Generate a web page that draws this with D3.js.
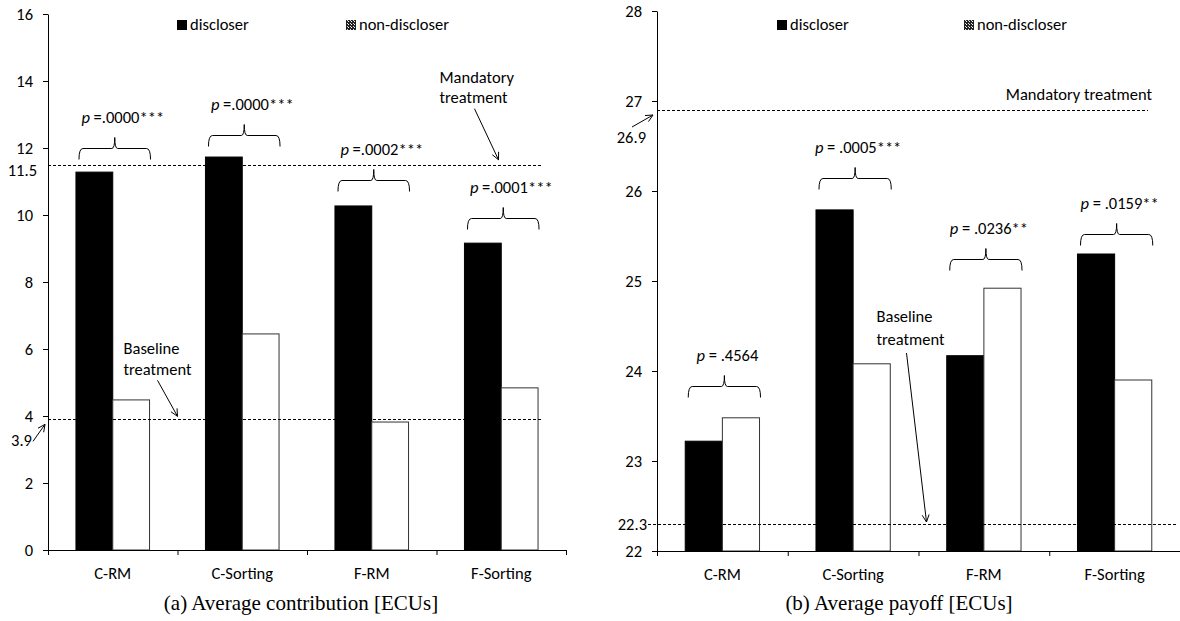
<!DOCTYPE html>
<meta charset="utf-8">
<style>
body { margin: 0; background: #fff; }
.lbl { font-family: Carlito, Lato, sans-serif; font-size: 16.5px; fill: #000; }
.cap { font-family: "Liberation Serif", "Times New Roman", serif; font-size: 21px; fill: #000; }
</style>
<body>
<script src="https://d3js.org/d3.v7.min.js"></script>
<script>

// data
const categories = ["C-RM", "C-Sorting", "F-RM", "F-Sorting"];
const series = ["discloser", "non-discloser"];

const contribDiscloser    = [11.28, 11.73, 10.27, 9.16];
const contribNonDiscloser = [4.48, 6.45, 3.82, 4.84];
const contribTicks = [0, 2, 4, 6, 8, 10, 12, 14, 16];
const contribPValues = ["=.0000***", "=.0000***", "=.0002***", "=.0001***"];
const contribBraceLevels = [12.0, 12.39, 11.04, 9.91];
const contribBaseline = 3.9;
const contribMandatory = 11.5;

const payoffDiscloser    = [23.22, 25.79, 24.17, 25.30];
const payoffNonDiscloser = [23.48, 24.08, 24.92, 23.90];
const payoffTicks = [22, 23, 24, 25, 26, 27, 28];
const payoffPValues = ["= .4564", "= .0005***", "= .0236**", "= .0159**"];
const payoffBraceLevels = [23.83, 26.14, 25.24, 25.52];
const payoffBaseline = 22.3;
const payoffMandatory = 26.9;

const svg = d3.select("body").append("svg")
    .attr("width", 1180)
    .attr("height", 621);

// legend hatch for non-discloser (as in the original figure)
const pat = svg.append("defs").append("pattern")
    .attr("id", "hatch")
    .attr("width", 3).attr("height", 3)
    .attr("patternUnits", "userSpaceOnUse");
pat.append("rect").attr("width", 3).attr("height", 3).attr("fill", "#222");
pat.append("rect").attr("width", 1).attr("height", 1).attr("fill", "#fff");
pat.append("rect").attr("x", 2).attr("y", 2).attr("width", 1).attr("height", 1).attr("fill", "#ddd");

function arrow(g, x1, y1, x2, y2) {
    g.append("line")
        .attr("x1", x1).attr("y1", y1).attr("x2", x2).attr("y2", y2)
        .attr("stroke", "#000").attr("stroke-width", 1);
    const a = Math.atan2(y2 - y1, x2 - x1), L = 8, s = 0.45;
    g.append("path")
        .attr("d", "M" + (x2 - L * Math.cos(a - s)) + "," + (y2 - L * Math.sin(a - s)) +
            "L" + x2 + "," + y2 +
            "L" + (x2 - L * Math.cos(a + s)) + "," + (y2 - L * Math.sin(a + s)))
        .attr("fill", "none").attr("stroke", "#000").attr("stroke-width", 1);
}

function brace(g, x0, x1, yH) {
    const xm = (x0 + x1) / 2;
    g.append("path")
        .attr("d", "M" + x0 + "," + (yH + 11) +
            "Q" + x0 + "," + yH + " " + (x0 + 4) + "," + yH +
            "L" + (xm - 3) + "," + yH +
            "Q" + xm + "," + yH + " " + xm + "," + (yH - 11) +
            "Q" + xm + "," + yH + " " + (xm + 3) + "," + yH +
            "L" + (x1 - 4) + "," + yH +
            "Q" + x1 + "," + yH + " " + x1 + "," + (yH + 11))
        .attr("fill", "none").attr("stroke", "#000").attr("stroke-width", 1);
}

function drawPanel(p) {
    const g = svg.append("g");

    const x = d3.scaleBand().domain(categories).range(p.xRange).padding(0);
    const xs = d3.scaleBand().domain(series).range([0, x.bandwidth()]).paddingInner(0).paddingOuter(0.76);
    const xEdge = d3.scaleLinear().domain([0, categories.length]).range(p.xRange);
    const y = d3.scaleLinear().domain(p.yDomain).range(p.yRange);

    const rows = categories.map((c, i) => ({cat: c, vals: [p.disc[i], p.non[i]]}));

    // bars
    const grp = g.selectAll(".cat").data(rows).join("g")
        .attr("transform", d => "translate(" + x(d.cat) + ",0)");
    grp.selectAll("rect").data(d => d.vals.map((v, j) => ({s: series[j], v: v}))).join("rect")
        .attr("x", d => xs(d.s))
        .attr("width", xs.bandwidth())
        .attr("y", d => y(d.v))
        .attr("height", d => y(p.yDomain[0]) - y(d.v))
        .attr("fill", d => d.s === "discloser" ? "#000" : "#fff")
        .attr("stroke", d => d.s === "discloser" ? "#000" : "#333")
        .attr("stroke-width", 1);

    // dashed reference lines
    [[p.base, p.baseX], [p.mand, p.mandX]].forEach(r => {
        g.append("line")
            .attr("x1", r[1][0]).attr("x2", r[1][1])
            .attr("y1", Math.round(y(r[0])) + 0.5).attr("y2", Math.round(y(r[0])) + 0.5)
            .attr("stroke", "#000").attr("stroke-width", 1)
            .attr("stroke-dasharray", "3,2");
    });

    // axes
    const ya = g.append("g")
        .attr("transform", "translate(" + p.xRange[0] + ",0)")
        .call(d3.axisLeft(y).tickValues(p.ticks).tickFormat(d3.format("d"))
            .tickSize(5).tickSizeOuter(0).tickPadding(10));
    ya.selectAll("text").attr("class", "lbl").attr("font-size", null).attr("font-family", null);

    g.append("g")
        .attr("transform", "translate(0," + p.yRange[0] + ")")
        .call(d3.axisBottom(xEdge).tickValues(d3.range(categories.length + 1)).tickSize(5).tickSizeOuter(0).tickFormat(""));
    g.append("g")
        .attr("transform", "translate(0," + p.yRange[0] + ")")
        .call(d3.axisBottom(x).tickSize(0).tickPadding(17))
        .call(a => a.select(".domain").remove())
        .selectAll("text").attr("class", "lbl").attr("font-size", null).attr("font-family", null);
    g.selectAll(".domain, .tick line").attr("stroke", "#000");

    // braces + p-values
    rows.forEach((d, i) => {
        const x0 = x(d.cat) + xs("discloser") + 3;
        const x1 = x(d.cat) + xs("non-discloser") + xs.bandwidth() + 1;
        const yH = Math.round(y(p.braces[i])) + 0.5;
        brace(g, x0, x1, yH);
        const t = g.append("text").attr("class", "lbl")
            .attr("x", (x0 + x1) / 2 + p.pShift)
            .attr("y", yH - 26)
            .attr("text-anchor", "middle");
        t.append("tspan").attr("font-style", "italic").text("p");
        t.append("tspan").text(" " + p.pvals[i]);
    });

    // legend
    series.forEach((s, j) => {
        const lx = p.xRange[0] + p.legendX[j];
        g.append("rect").attr("x", lx).attr("y", 20).attr("width", 10).attr("height", 10)
            .attr("fill", j === 0 ? "#000" : "url(#hatch)");
        g.append("text").attr("class", "lbl").attr("x", lx + 13).attr("y", 30).text(s);
    });

    // caption
    g.append("text").attr("class", "cap")
        .attr("x", p.capX).attr("y", 610)
        .attr("text-anchor", "middle").text(p.caption);

    p.extra(g, x, y);
}

drawPanel({
    xRange: [48, 566], yDomain: [0, 16], yRange: [550, 14],
    ticks: contribTicks, disc: contribDiscloser, non: contribNonDiscloser,
    pvals: contribPValues, braces: contribBraceLevels, pShift: 8,
    base: contribBaseline, mand: contribMandatory,
    baseX: [48, 542], mandX: [48, 542],
    legendX: [129, 298], capX: 301,
    caption: "(a) Average contribution [ECUs]",
    extra: (g, x, y) => {
        g.append("text").attr("class", "lbl").attr("x", 37).attr("y", y(contribMandatory) + 11)
            .attr("text-anchor", "end").text("11.5");
        g.append("text").attr("class", "lbl").attr("x", 32).attr("y", y(contribBaseline) + 27)
            .attr("text-anchor", "end").text("3.9");
        arrow(g, 33, y(contribBaseline) + 22, 45, y(contribBaseline) + 5);

        const bx = x("C-Sorting");
        g.append("text").attr("class", "lbl").attr("x", bx - 54).attr("y", y(contribBaseline) - 65).text("Baseline");
        g.append("text").attr("class", "lbl").attr("x", bx - 54).attr("y", y(contribBaseline) - 44).text("treatment");
        arrow(g, bx - 20, y(contribBaseline) - 39, bx, y(contribBaseline) - 3);

        const mx = x("F-Sorting");
        g.append("text").attr("class", "lbl").attr("x", mx + 3).attr("y", y(contribMandatory) - 82).text("Mandatory");
        g.append("text").attr("class", "lbl").attr("x", mx + 3).attr("y", y(contribMandatory) - 62).text("treatment");
        arrow(g, mx + 38, y(contribMandatory) - 56, mx + 62, y(contribMandatory) - 5);
    }
});

drawPanel({
    xRange: [657, 1180], yDomain: [22, 28], yRange: [551, 11],
    ticks: payoffTicks, disc: payoffDiscloser, non: payoffNonDiscloser,
    pvals: payoffPValues, braces: payoffBraceLevels, pShift: 3,
    base: payoffBaseline, mand: payoffMandatory,
    baseX: [648, 1178], mandX: [657, 1148],
    legendX: [120, 307], capX: 899,
    caption: "(b) Average payoff [ECUs]",
    extra: (g, x, y) => {
        g.append("text").attr("class", "lbl").attr("x", 646).attr("y", y(payoffMandatory) + 33)
            .attr("text-anchor", "end").text("26.9");
        arrow(g, 632, y(payoffMandatory) + 17, 653, y(payoffMandatory) + 5);
        g.append("text").attr("class", "lbl").attr("x", 647).attr("y", y(payoffBaseline) + 6)
            .attr("text-anchor", "end").text("22.3");

        const bx = x("F-RM");
        g.append("text").attr("class", "lbl").attr("x", bx - 42).attr("y", y(payoffBaseline) - 202).text("Baseline");
        g.append("text").attr("class", "lbl").attr("x", bx - 42).attr("y", y(payoffBaseline) - 179).text("treatment");
        arrow(g, bx - 12, y(payoffBaseline) - 171, bx + 8, y(payoffBaseline) - 2);

        g.append("text").attr("class", "lbl").attr("x", 1152).attr("y", y(payoffMandatory) - 10)
            .attr("text-anchor", "end").text("Mandatory treatment");
    }
});

</script>
</body>
